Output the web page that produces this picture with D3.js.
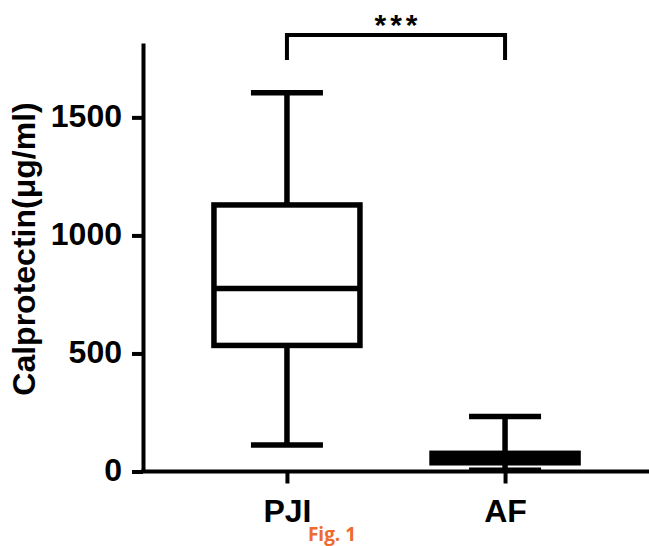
<!DOCTYPE html>
<html>
<head>
<meta charset="utf-8">
<script src="https://cdn.jsdelivr.net/npm/d3@7"></script>
<style>
  body { margin: 0; background: #fff; }
  svg { display: block; }
  .axis text { font-family: "Liberation Sans", Arial, sans-serif; font-weight: bold; font-size: 32px; fill: #000; }
  .axis path, .axis line { stroke: #000; stroke-width: 4px; }
</style>
</head>
<body>
<div id="chart"></div>
<script>
// group names and box stats
var groups = ['PJI', 'AF'];
var whiskerLow = [112, 5];
var q1 = [534, 37];
var median = [775, 56.5];
var q3 = [1129, 77];
var whiskerHigh = [1604, 233];
var yTicks = [0, 500, 1000, 1500];
var yLabel = 'Calprotectin(\u03bcg/ml)';
var sigLabel = '***';
var caption = 'Fig. 1';

var width = 649, height = 546;

var svg = d3.select('#chart').append('svg')
  .attr('width', width)
  .attr('height', height);

var x = d3.scalePoint().domain(groups).range([143, 649]).padding(0.66);
var y = d3.scaleLinear().domain([0, 1815]).range([471.5, 43]);

var boxW = 146, capW = 72, lw = 5.5;

// x axis
var xAxis = svg.append('g')
  .attr('class', 'axis')
  .attr('transform', 'translate(0,' + y(0) + ')')
  .call(d3.axisBottom(x).tickSize(12).tickSizeOuter(0).tickPadding(10));
xAxis.select('.domain').attr('d', 'M141,0H649');
xAxis.selectAll('.tick text').attr('dy', '0.9em');

// y axis
var yAxis = svg.append('g')
  .attr('class', 'axis')
  .attr('transform', 'translate(143,0)')
  .call(d3.axisLeft(y).tickValues(yTicks).tickFormat(d3.format('d'))
    .tickSize(11).tickSizeOuter(0).tickPadding(10));
yAxis.selectAll('.tick text').attr('dy', '0.28em');

svg.append('text')
  .attr('transform', 'translate(35,' + 249 + ') rotate(-90)')
  .attr('text-anchor', 'middle')
  .style('font-family', '"Liberation Sans", Arial, sans-serif')
  .style('font-weight', 'bold')
  .style('font-size', '32px')
  .text(yLabel);

// boxes
var boxes = svg.selectAll('g.box')
  .data(groups)
  .enter().append('g')
  .attr('class', 'box');

boxes.each(function(g, i) {
  var el = d3.select(this);
  var cx = x(g);
  var line = function(x1, y1, x2, y2) {
    el.append('line')
      .attr('x1', x1).attr('y1', y1).attr('x2', x2).attr('y2', y2)
      .attr('stroke', '#000').attr('stroke-width', lw);
  };
  // whiskers
  line(cx, y(whiskerHigh[i]), cx, y(q3[i]));
  line(cx, y(q1[i]), cx, y(whiskerLow[i]));
  line(cx - capW / 2, y(whiskerHigh[i]), cx + capW / 2, y(whiskerHigh[i]));
  line(cx - capW / 2, y(whiskerLow[i]), cx + capW / 2, y(whiskerLow[i]));
  // box
  el.append('rect')
    .attr('x', cx - boxW / 2)
    .attr('y', y(q3[i]))
    .attr('width', boxW)
    .attr('height', y(q1[i]) - y(q3[i]))
    .attr('fill', '#fff')
    .attr('stroke', '#000')
    .attr('stroke-width', lw);
  line(cx - boxW / 2, y(median[i]), cx + boxW / 2, y(median[i]));
});

// significance bracket
var bracketY = 35, legY = 60;
svg.append('path')
  .attr('d', 'M' + x(groups[0]) + ',' + legY + 'V' + bracketY + 'H' + x(groups[1]) + 'V' + legY)
  .attr('fill', 'none')
  .attr('stroke', '#000')
  .attr('stroke-width', 4);

svg.append('text')
  .attr('x', (x(groups[0]) + x(groups[1])) / 2 + 2)
  .attr('y', 35)
  .attr('text-anchor', 'middle')
  .style('font-family', '"Liberation Sans", Arial, sans-serif')
  .style('font-weight', 'bold')
  .style('font-size', '30px')
  .style('letter-spacing', '4px')
  .text(sigLabel);

svg.append('text')
  .attr('x', 332)
  .attr('y', 541)
  .attr('text-anchor', 'middle')
  .style('font-family', '"Open Sans", sans-serif')
  .style('font-weight', '700')
  .style('font-size', '19px')
  .style('fill', '#ee6a2e')
  .text(caption);
</script>
</body>
</html>
